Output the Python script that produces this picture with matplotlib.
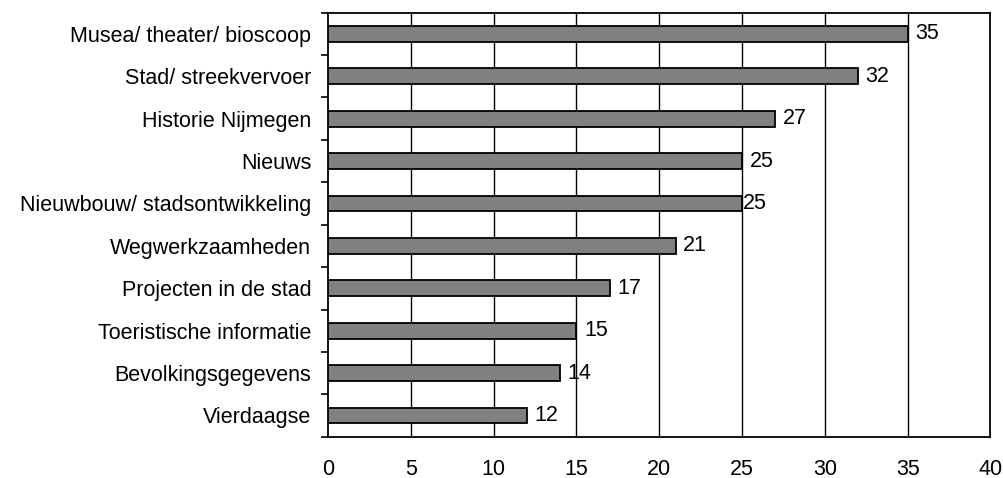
import matplotlib
matplotlib.use("Agg")
import matplotlib.pyplot as plt
import numpy as np

plt.rcParams['font.family'] = ['Liberation Sans', 'DejaVu Sans']

categories = [
    "Musea/ theater/ bioscoop",
    "Stad/ streekvervoer",
    "Historie Nijmegen",
    "Nieuws",
    "Nieuwbouw/ stadsontwikkeling",
    "Wegwerkzaamheden",
    "Projecten in de stad",
    "Toeristische informatie",
    "Bevolkingsgegevens",
    "Vierdaagse",
]
values = [35, 32, 27, 25, 25, 21, 17, 15, 14, 12]
x_ticks = [0, 5, 10, 15, 20, 25, 30, 35, 40]

FS = 15.5

fig = plt.figure(figsize=(10.04, 4.78), dpi=100)
ax = fig.add_axes([328 / 1004, 1 - 436.7 / 478, (990.5 - 328) / 1004, (436.7 - 12.7) / 478])

n = len(categories)
ypos = np.arange(n)
ax.barh(ypos, values, height=0.37, color="#808080", edgecolor="black", linewidth=1.3, zorder=3)

ax.set_xlim(0, 40)
ax.set_ylim(n - 0.5, -0.5)

# vertical gridlines
for t in x_ticks[1:-1]:
    ax.axvline(t, color="black", linewidth=1.0, zorder=1)

ax.set_xticks(x_ticks)
ax.set_xticklabels([str(t) for t in x_ticks], fontsize=FS)
ax.tick_params(axis="x", length=0, pad=16)

# category labels centred on bars, tick marks at category boundaries
ax.set_yticks(ypos)
ax.set_yticklabels(categories, fontsize=FS)
ax.tick_params(axis="y", which="major", length=0, pad=12)
ax.set_yticks(np.arange(n + 1) - 0.5, minor=True)
ax.tick_params(axis="y", which="minor", length=5, width=1.2, direction="out")

for s in ax.spines.values():
    s.set_linewidth(1.3)
    s.set_color("black")

for i, v in enumerate(values):
    off = 0.05 if categories[i].startswith("Nieuwbouw") else 0.45
    ax.text(v + off, i, str(v), va="center", ha="left", fontsize=FS, zorder=4)

fig.savefig("out.png", dpi=100, facecolor="white")
